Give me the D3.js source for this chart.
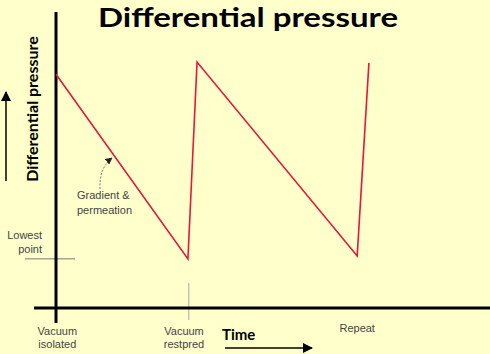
<!DOCTYPE html>
<html><head><meta charset="utf-8">
<script src="https://cdn.jsdelivr.net/npm/d3@7"></script>
<style>html,body{margin:0;padding:0;background:#ffffcc;}</style>
</head><body>
<script>
// Data
const times = [0, 30.4, 32.5, 69.4, 72.1];
const pressures = [79, 16.6, 83.1, 17.6, 82.8];
const lowestPoint = 16.6;
const restoredTime = 30.6;
const tickLabels = [["Vacuum", "isolated"], ["Vacuum", "restpred"], ["Repeat"]];
const tickTimes = [0.3, 29.5, 69.4];
const title = "Differential pressure";
const yLabel = "Differential pressure";
const xLabel = "Time";
const annotation = ["Gradient &", "permeation"];
const lowestLabel = ["Lowest", "point"];

const W = 490, H = 354;
const svg = d3.select("body").append("svg").attr("width", W).attr("height", H)
  .style("display", "block").style("background", "#ffffcc");

const x = d3.scaleLinear().domain([0, 100]).range([56, 490]);
const y = d3.scaleLinear().domain([0, 100]).range([308, 12]);

const defs = svg.append("defs");
defs.append("marker").attr("id", "ah").attr("viewBox", "0 0 10 10").attr("refX", 9).attr("refY", 5)
  .attr("markerWidth", 10).attr("markerHeight", 10).attr("markerUnits", "userSpaceOnUse").attr("orient", "auto")
  .append("path").attr("d", "M0,0 L10,5 L0,10 Z").attr("fill", "#000");
defs.append("marker").attr("id", "ahs").attr("viewBox", "0 0 10 10").attr("refX", 9).attr("refY", 5)
  .attr("markerWidth", 7).attr("markerHeight", 7).attr("markerUnits", "userSpaceOnUse").attr("orient", "auto")
  .append("path").attr("d", "M0,0 L10,5 L0,10 Z").attr("fill", "#222");

// Title
svg.append("text").attr("x", 248).attr("y", 27).attr("text-anchor", "middle")
  .attr("font-family", "Lato").attr("font-weight", "bold").attr("font-size", 27).attr("fill", "#000")
  .attr("textLength", 300).attr("lengthAdjust", "spacingAndGlyphs")
  .text(title);

// Lowest point guide
svg.append("line").attr("x1", 25).attr("x2", 75).attr("y1", y(lowestPoint)).attr("y2", y(lowestPoint))
  .attr("stroke", "#777").attr("stroke-width", 1);
svg.append("g").selectAll("text").data(lowestLabel).join("text")
  .attr("x", 42).attr("y", (d, i) => 239 + i * 14).attr("text-anchor", "end")
  .attr("font-family", "Liberation Sans").attr("font-size", 11).attr("fill", "#444").text(d => d);

// Vacuum restored marker
svg.append("line").attr("x1", x(restoredTime)).attr("x2", x(restoredTime)).attr("y1", 283).attr("y2", 320)
  .attr("stroke", "#aaa").attr("stroke-width", 1);

// Axes
svg.append("line").attr("x1", 56).attr("x2", 56).attr("y1", 12).attr("y2", 323)
  .attr("stroke", "#000").attr("stroke-width", 3);
svg.append("line").attr("x1", 34).attr("x2", 490).attr("y1", y(0)).attr("y2", y(0))
  .attr("stroke", "#000").attr("stroke-width", 3);

// Series line
const line = d3.line().x((d, i) => x(times[i])).y(d => y(d));
svg.append("path").attr("d", line(pressures)).attr("fill", "none")
  .attr("stroke", "#e8173a").attr("stroke-width", 1.6).attr("stroke-linejoin", "miter");

// Tick labels
tickLabels.forEach((lines, k) => {
  svg.append("g").selectAll("text").data(lines).join("text")
    .attr("x", x(tickTimes[k])).attr("y", (d, i) => (lines.length === 1 ? 332 : 335) + i * 13)
    .attr("text-anchor", "middle").attr("font-family", "Liberation Sans").attr("font-size", 11)
    .attr("fill", "#444").text(d => d);
});

// Time label + arrow
svg.append("text").attr("x", 222).attr("y", 340).attr("font-family", "Lato").attr("font-weight", "bold")
  .attr("font-size", 15).attr("fill", "#000").text(xLabel);
svg.append("line").attr("x1", 225).attr("x2", 312).attr("y1", 348).attr("y2", 348)
  .attr("stroke", "#000").attr("stroke-width", 1.5).attr("marker-end", "url(#ah)");

// Y label + arrow
svg.append("text").attr("transform", "translate(38,109) rotate(-90)").attr("text-anchor", "middle")
  .attr("font-family", "Lato").attr("font-weight", "bold").attr("font-size", 16).attr("fill", "#000")
  .text(yLabel);
svg.append("line").attr("x1", 6).attr("x2", 6).attr("y1", 181).attr("y2", 92)
  .attr("stroke", "#000").attr("stroke-width", 1.5).attr("marker-end", "url(#ah)");

// Annotation
svg.append("g").selectAll("text").data(annotation).join("text")
  .attr("x", 77).attr("y", (d, i) => 199 + i * 15)
  .attr("font-family", "Liberation Sans").attr("font-size", 11).attr("fill", "#444").text(d => d);
svg.append("path").attr("d", "M100,189 Q99,168 112,158").attr("fill", "none")
  .attr("stroke", "#555").attr("stroke-width", 0.8).attr("stroke-dasharray", "2,1.5")
  .attr("marker-end", "url(#ahs)");
</script>
</body></html>
